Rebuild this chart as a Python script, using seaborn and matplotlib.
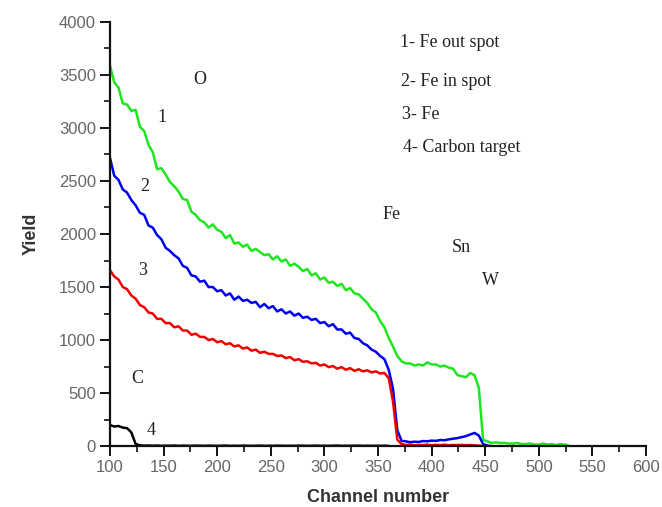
import numpy as np
import pandas as pd
import matplotlib
matplotlib.use("Agg")
import matplotlib.pyplot as plt
import seaborn as sns
from matplotlib.ticker import MultipleLocator

nan = np.nan
channels = list(range(100, 532, 4))

fe_out_spot = [3590, 3430, 3380, 3230, 3220, 3160, 3170, 3010, 2970, 2840,
               2770, 2610, 2620, 2560, 2490, 2450, 2400, 2330, 2320, 2210,
               2180, 2130, 2110, 2060, 2090,
               2040, 2020, 1960, 1990, 1910, 1920, 1880, 1900, 1840, 1860,
               1830, 1800, 1810, 1760, 1790, 1740, 1760, 1700, 1720, 1690,
               1650, 1670, 1610, 1630, 1570,
               1590, 1540, 1550, 1510, 1530, 1470, 1490, 1440, 1430, 1390,
               1350, 1290, 1260, 1180, 1120, 1020, 940, 850, 800, 780,
               780, 760, 770, 760, 790,
               770, 770, 750, 760, 740, 730, 670, 660, 650, 690,
               670, 550, 60, 45, 30, 35, 30, 30, 25, 25,
               30, 20, 20, 25, 15,
               15, 25, 15, 20, 10, 20, 15, 5]

fe_in_spot = [2720, 2550, 2510, 2420, 2390, 2320, 2270, 2200, 2180, 2080,
              2060, 1990, 1950, 1870, 1840, 1800, 1770, 1700, 1680, 1610,
              1600, 1550, 1560, 1500, 1500,
              1460, 1470, 1420, 1440, 1380, 1410, 1370, 1380, 1350, 1360,
              1310, 1340, 1300, 1320, 1270, 1290, 1250, 1270, 1230, 1250,
              1210, 1220, 1190, 1200, 1160,
              1170, 1130, 1150, 1100, 1100, 1060, 1070, 1020, 1010, 970,
              950, 910, 890, 850, 820, 720, 540, 150, 50, 45,
              38, 42, 40, 48, 46,
              52, 50, 58, 56, 64, 70, 76, 85, 95, 110,
              125, 100, 20, 5, 0, nan, nan, nan, nan, nan,
              nan, nan, nan, nan, nan,
              nan, nan, nan, nan, nan, nan, nan, nan]

fe = [1660, 1600, 1570, 1500, 1480, 1420, 1390, 1330, 1310, 1260,
      1250, 1200, 1200, 1160, 1160, 1120, 1130, 1090, 1090, 1050,
      1060, 1030, 1030, 1000, 1010,
      980, 990, 960, 970, 940, 950, 920, 930, 900, 910,
      880, 890, 870, 870, 850, 855, 830, 840, 810, 820,
      795, 800, 780, 785, 760,
      770, 745, 755, 730, 745, 720, 735, 710, 725, 705,
      715, 695, 705, 685, 690, 640, 420, 60, 20, 10,
      15, 8, 12, 10, 14,
      9, 12, 10, 13, 8, 11, 10, 12, 9, 11,
      8, 5, 0, nan, nan, nan, nan, nan, nan, nan,
      nan, nan, nan, nan, nan,
      nan, nan, nan, nan, nan, nan, nan, nan]

carbon_target = [200, 185, 190, 175, 170, 130, 20, 8, 5, 6,
                 4, 6, 3, 5, 4, 6, 3, 5, 4, 3,
                 5, 4, 3, 5, 4, 3, 4, 5, 3, 4,
                 3, 5, 4, 3, 4, 5, 3, 4, 3, 5,
                 4, 3, 4, 3, 5, 4, 3, 4, 5, 3,
                 4, 3, 4, 5, 3, 4, 3, 4, 5, 3,
                 4, 3, 4, 3, 4, 3, nan, nan, nan, nan,
                 nan, nan, nan, nan, nan, nan, nan, nan, nan, nan,
                 nan, nan, nan, nan, nan, nan, nan, nan, nan, nan,
                 nan, nan, nan, nan, nan, nan, nan, nan, nan, nan,
                 nan, nan, nan, nan, nan, nan, nan, nan]

series = [("1", fe_out_spot, "#1ee61e"),
          ("2", fe_in_spot, "#0000f0"),
          ("3", fe, "#f00000"),
          ("4", carbon_target, "#000000")]

legend_lines = ["1- Fe out spot", "2- Fe in spot", "3- Fe", "4- Carbon target"]
element_labels = ["O", "Fe", "Sn", "W", "C"]

sns.set_theme(style="ticks")
plt.rcParams['font.family'] = ['Liberation Sans', 'DejaVu Sans']

fig = plt.figure(figsize=(6.62, 5.07), dpi=100)
ax = fig.add_axes([0.166, 0.120, 0.810, 0.837])

for name, vals, col in series:
    df = pd.DataFrame({"ch": channels, "y": vals}).dropna()
    sns.lineplot(data=df, x="ch", y="y", color=col, linewidth=1.8, ax=ax)

ax.set_xlim(100, 600)
ax.set_ylim(0, 4000)
ax.xaxis.set_major_locator(MultipleLocator(50))
ax.xaxis.set_minor_locator(MultipleLocator(25))
ax.yaxis.set_major_locator(MultipleLocator(500))
ax.yaxis.set_minor_locator(MultipleLocator(250))
for s in ["top", "right"]:
    ax.spines[s].set_visible(False)
for s in ["left", "bottom"]:
    ax.spines[s].set_linewidth(1.6)
    ax.spines[s].set_color("#111111")
ax.tick_params(which="major", direction="out", length=7, width=1.4,
               color="#111111", labelsize=12, labelcolor="#666666", pad=3)
ax.tick_params(which="minor", direction="out", length=4, width=1.2, color="#111111")

ax.set_xlabel("Channel number", fontsize=13, fontweight="bold", color="#333333", labelpad=10)
ax.set_ylabel("Yield", fontsize=13, fontweight="bold", color="#333333", labelpad=14)

serif = ['Liberation Serif', 'DejaVu Serif']
tk = dict(fontsize=13, family=serif, color="#222222")
leg_pos = [(370.5, 3802), (371.5, 3434), (372.4, 3123), (373.3, 2811)]
for txt, (x, y) in zip(legend_lines, leg_pos):
    ax.text(x, y, txt, ha="left", va="center", **tk)

elem_pos = [(184, 3453), (363, 2179), (428, 1877), (455, 1566), (125.2, 642)]
for txt, (x, y) in zip(element_labels, elem_pos):
    ax.text(x, y, txt, ha="center", va="center", **tk)

num_pos = [(148.5, 3094), (132.6, 2443), (130.8, 1660), (138.2, 151)]
for (name, _, _), (x, y) in zip(series, num_pos):
    ax.text(x, y, name, ha="center", va="center", **tk)

fig.savefig("out.png", dpi=100)
